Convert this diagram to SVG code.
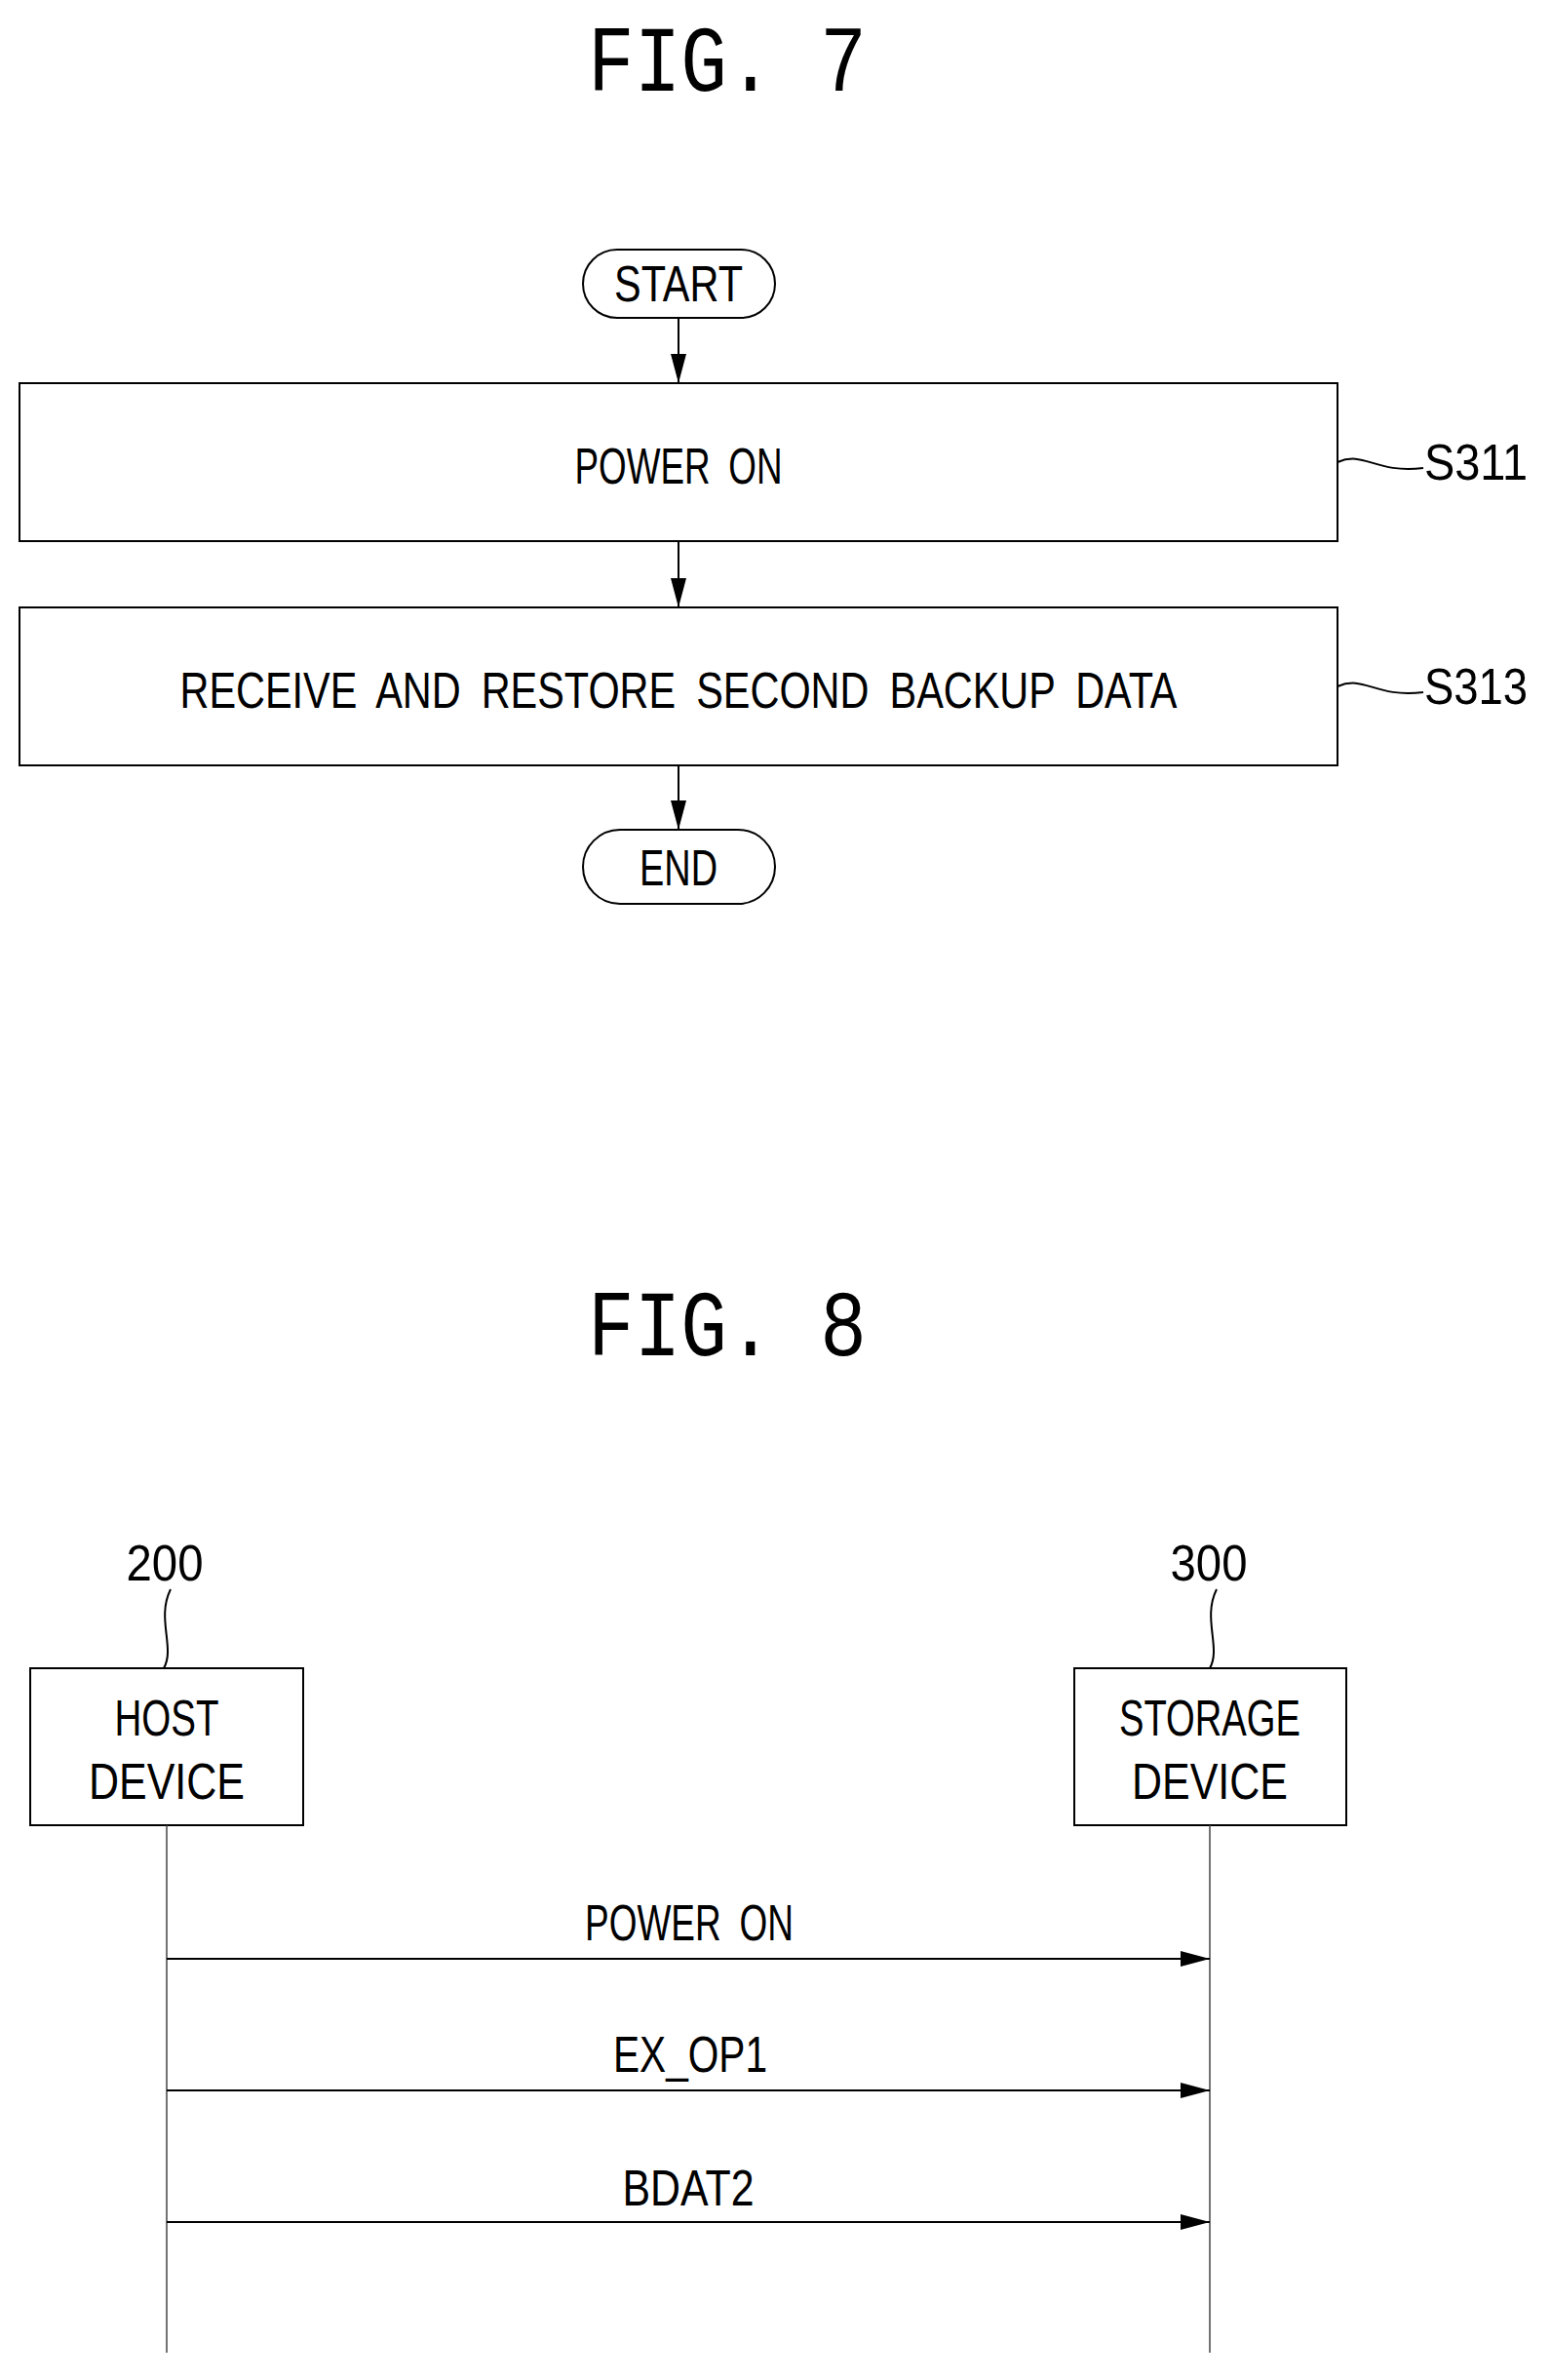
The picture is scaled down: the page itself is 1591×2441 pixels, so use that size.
<svg xmlns="http://www.w3.org/2000/svg" width="1591" height="2441" viewBox="0 0 1591 2441">
<style>
text{font-family:"Liberation Sans",Arial,sans-serif;fill:#000;text-anchor:middle}
.t{font-size:52px;word-spacing:12px}
.fig{font-size:96px;font-family:"Liberation Mono","Courier New",monospace}
.b{fill:#fff;stroke:#000;stroke-width:2}
.l{stroke:#000;stroke-width:2;fill:none}
.ll{stroke:#444;stroke-width:1.5;fill:none}
</style>
<defs>
<marker id="ah" markerWidth="30" markerHeight="16" refX="30" refY="8" orient="auto" markerUnits="userSpaceOnUse"><path d="M0,0 L30,8 L0,16 Z" fill="#000"/></marker>
</defs>
<rect width="1591" height="2441" fill="#fff"/>
<text class="fig" x="746" y="93" textLength="286" lengthAdjust="spacingAndGlyphs">FIG. 7</text>
<g id="start"><rect class="b" x="598" y="256" width="197" height="70" rx="35"/><text class="t" x="696" y="309" textLength="132" lengthAdjust="spacingAndGlyphs">START</text></g>
<g id="s311"><rect class="b" x="20" y="393" width="1352" height="162"/><text class="t" x="696" y="496" textLength="213" lengthAdjust="spacingAndGlyphs">POWER ON</text>
<path class="l" d="M1372,474 C1400,462 1410,486 1460,480"/><text class="t" x="1514" y="492" textLength="106" lengthAdjust="spacingAndGlyphs">S311</text></g>
<g id="s313"><rect class="b" x="20" y="623" width="1352" height="162"/><text class="t" x="696" y="726" textLength="1023" lengthAdjust="spacingAndGlyphs">RECEIVE AND RESTORE SECOND BACKUP DATA</text>
<path class="l" d="M1372,704 C1400,692 1410,716 1460,710"/><text class="t" x="1514" y="722" textLength="106" lengthAdjust="spacingAndGlyphs">S313</text></g>
<g id="end"><rect class="b" x="598" y="851" width="197" height="76" rx="38"/><text class="t" x="696" y="908" textLength="80" lengthAdjust="spacingAndGlyphs">END</text></g>
<g id="connectors7">
<line class="l" x1="696" y1="326" x2="696" y2="393" marker-end="url(#ah)"/>
<line class="l" x1="696" y1="555" x2="696" y2="623" marker-end="url(#ah)"/>
<line class="l" x1="696" y1="785" x2="696" y2="851" marker-end="url(#ah)"/>
</g>
<text class="fig" x="746" y="1390" textLength="286" lengthAdjust="spacingAndGlyphs">FIG. 8</text>
<g id="host"><text class="t" x="169" y="1621" textLength="79" lengthAdjust="spacingAndGlyphs">200</text>
<path class="l" d="M175,1630 C160,1660 180,1690 168,1711"/>
<rect class="b" x="31" y="1711" width="280" height="161"/>
<text class="t" x="171" y="1780" textLength="107" lengthAdjust="spacingAndGlyphs">HOST</text>
<text class="t" x="171" y="1845" textLength="160" lengthAdjust="spacingAndGlyphs">DEVICE</text></g>
<g id="storage"><text class="t" x="1240" y="1621" textLength="79" lengthAdjust="spacingAndGlyphs">300</text>
<path class="l" d="M1248,1630 C1233,1660 1253,1690 1241,1711"/>
<rect class="b" x="1102" y="1711" width="279" height="161"/>
<text class="t" x="1241" y="1780" textLength="186" lengthAdjust="spacingAndGlyphs">STORAGE</text>
<text class="t" x="1241" y="1845" textLength="160" lengthAdjust="spacingAndGlyphs">DEVICE</text></g>
<g id="connectors8">
<line class="ll" x1="171" y1="1872" x2="171" y2="2413"/>
<line class="ll" x1="1241" y1="1872" x2="1241" y2="2413"/>
<line class="l" x1="171" y1="2009" x2="1241" y2="2009" marker-end="url(#ah)"/>
<line class="l" x1="171" y1="2144" x2="1241" y2="2144" marker-end="url(#ah)"/>
<line class="l" x1="171" y1="2279" x2="1241" y2="2279" marker-end="url(#ah)"/>
<text class="t" x="707" y="1990" textLength="214" lengthAdjust="spacingAndGlyphs">POWER ON</text>
<text class="t" x="708" y="2125" textLength="158" lengthAdjust="spacingAndGlyphs">EX_OP1</text>
<text class="t" x="706" y="2262" textLength="135" lengthAdjust="spacingAndGlyphs">BDAT2</text>
</g>
</svg>
